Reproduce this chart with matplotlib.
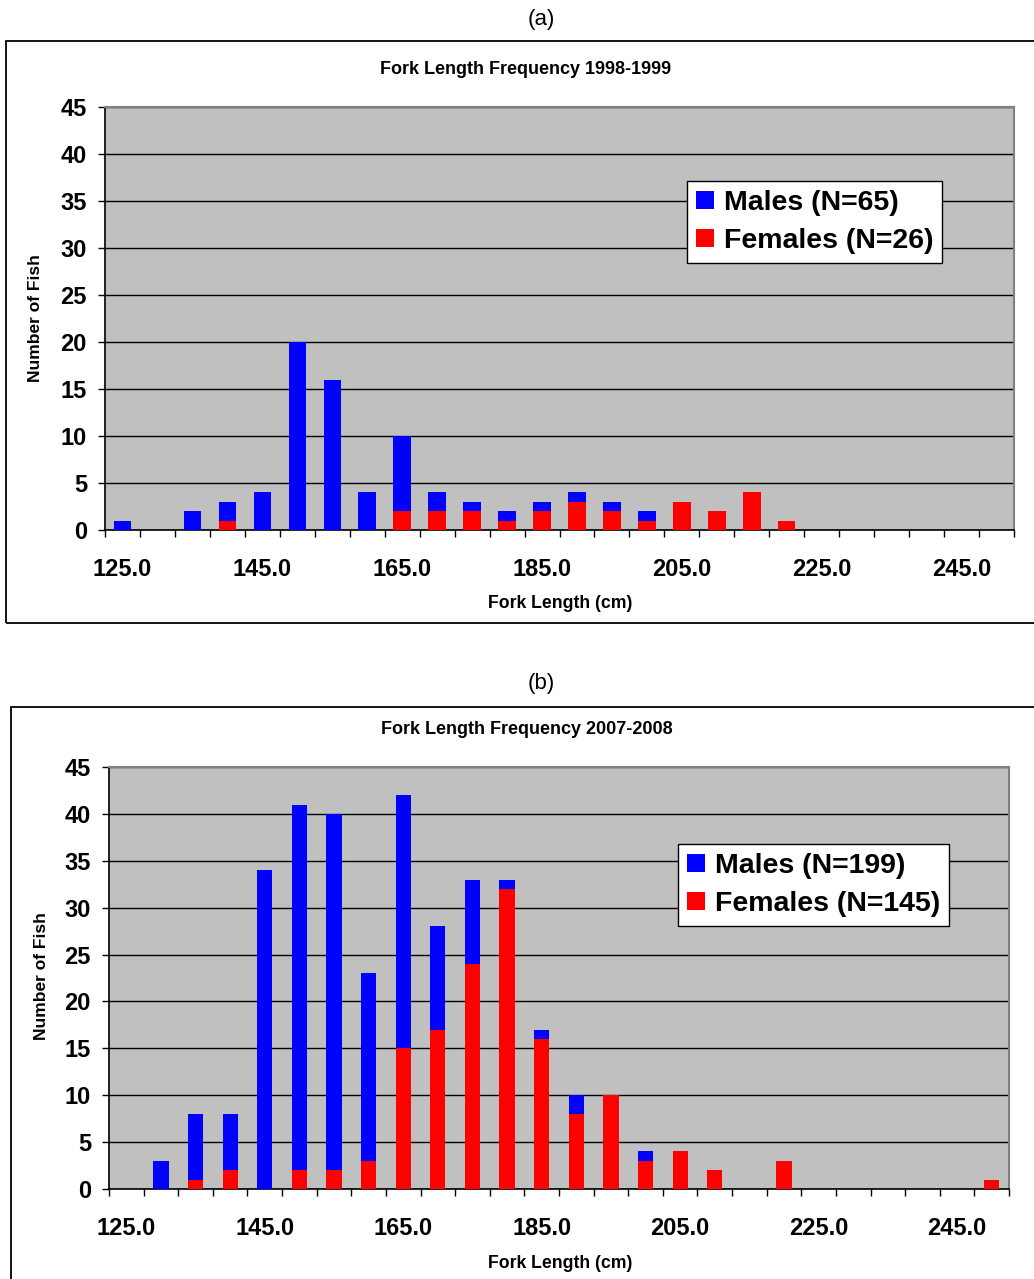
import matplotlib
matplotlib.use('Agg')
import matplotlib.pyplot as plt
from matplotlib.patches import Rectangle
import numpy as np

plt.rcParams['font.family'] = ['Liberation Sans', 'DejaVu Sans']

# fork length classes (cm)
lengths = [125, 130, 135, 140, 145, 150, 155, 160, 165, 170, 175, 180, 185,
           190, 195, 200, 205, 210, 215, 220, 225, 230, 235, 240, 245, 250]

# 1998-1999
males_a = [1, 0, 2, 2, 4, 20, 16, 4, 8, 2, 1, 1, 1,
           1, 1, 1, 0, 0, 0, 0, 0, 0, 0, 0, 0, 0]
females_a = [0, 0, 0, 1, 0, 0, 0, 0, 2, 2, 2, 1, 2,
             3, 2, 1, 3, 2, 4, 1, 0, 0, 0, 0, 0, 0]

# 2007-2008
males_b = [0, 3, 7, 6, 34, 39, 38, 20, 27, 11, 9, 1, 1,
           2, 0, 1, 0, 0, 0, 0, 0, 0, 0, 0, 0, 0]
females_b = [0, 0, 1, 2, 0, 2, 2, 3, 15, 17, 24, 32, 16,
             8, 10, 3, 4, 2, 0, 3, 0, 0, 0, 0, 0, 1]

W, H = 1034, 1279
fig = plt.figure(figsize=(W / 100, H / 100), dpi=100)


def fx(px):
    return px / W


def fy(py):
    return 1 - py / H


def draw_panel(rect, males, females, bar_w, leg_anchor):
    ax = fig.add_axes(rect)
    ax.set_facecolor('#c0c0c0')
    x = np.arange(len(lengths))
    ax.bar(x, females, bar_w, color='#ff0000', zorder=3, linewidth=0,
           label=f'Females (N={sum(females)})')
    ax.bar(x, males, bar_w, bottom=females, color='#0000ff', zorder=3,
           linewidth=0, label=f'Males (N={sum(males)})')
    ax.set_xlim(-0.5, len(lengths) - 0.5)
    ax.set_ylim(0, 45)
    ax.set_yticks(range(0, 46, 5))
    ax.yaxis.grid(True, color='black', lw=1.0, zorder=1)
    ax.set_axisbelow(True)

    # ticks at category boundaries, labels every 4th class
    ax.set_xticks(np.arange(-0.5, len(lengths), 1.0))
    ax.set_xticklabels([])
    ax.set_xticks(x[::4], minor=True)
    ax.set_xticklabels([f'{v:.1f}' for v in lengths[::4]], minor=True)
    ax.tick_params(axis='x', which='major', direction='out', length=5, width=1)
    ax.tick_params(axis='x', which='minor', length=0, pad=20, labelsize=17)
    ax.tick_params(axis='y', direction='out', length=5, width=1, pad=8,
                   labelsize=17)
    for lab in ax.get_xticklabels(minor=True) + ax.get_yticklabels():
        lab.set_fontweight('bold')

    for s in ['top', 'right']:
        ax.spines[s].set_color('#808080')
        ax.spines[s].set_linewidth(1.5)
    for s in ['left', 'bottom']:
        ax.spines[s].set_color('black')
        ax.spines[s].set_linewidth(1.2)

    handles, labels = ax.get_legend_handles_labels()
    leg = fig.legend(handles[::-1], labels[::-1], loc='upper left',
                     bbox_to_anchor=leg_anchor,
                     prop={'weight': 'bold', 'size': 20.5},
                     frameon=True, fancybox=False, framealpha=1,
                     facecolor='white', edgecolor='black',
                     handlelength=0.62, handleheight=0.62, handletextpad=0.35,
                     labelspacing=0.42, borderpad=0.32, borderaxespad=0)
    leg.get_frame().set_linewidth(1.0)
    return ax


# panel (a)
fig.text(fx(541), fy(20), '(a)', ha='center', va='center', fontsize=16)
fig.patches.append(Rectangle((fx(6), fy(623)), 1.0, (623 - 41) / H,
                             transform=fig.transFigure, fill=False,
                             ec='black', lw=1.3))
draw_panel([fx(105), fy(530), (1014 - 105) / W, (530 - 107) / H],
           males_a, females_a, 0.5, (fx(687), fy(181)))
fig.text(fx(526), fy(70), 'Fork Length Frequency 1998-1999', ha='center',
         va='center', fontsize=13, fontweight='bold')
fig.text(fx(560), fy(603), 'Fork Length (cm)', ha='center', va='center',
         fontsize=12.7, fontweight='bold')
fig.text(fx(35), fy(318), 'Number of Fish', ha='center', va='center',
         rotation=90, fontsize=12.5, fontweight='bold')

# panel (b)
fig.text(fx(541), fy(684), '(b)', ha='center', va='center', fontsize=16)
fig.patches.append(Rectangle((fx(11), fy(1290)), 1.0, (1290 - 707) / H,
                             transform=fig.transFigure, fill=False,
                             ec='black', lw=1.3))
draw_panel([fx(109), fy(1189), (1009 - 109) / W, (1189 - 767) / H],
           males_b, females_b, 0.44, (fx(678), fy(844)))
fig.text(fx(527), fy(730), 'Fork Length Frequency 2007-2008', ha='center',
         va='center', fontsize=13, fontweight='bold')
fig.text(fx(560), fy(1263), 'Fork Length (cm)', ha='center', va='center',
         fontsize=12.7, fontweight='bold')
fig.text(fx(42), fy(976), 'Number of Fish', ha='center', va='center',
         rotation=90, fontsize=12.5, fontweight='bold')

fig.savefig('out.png', dpi=100)
